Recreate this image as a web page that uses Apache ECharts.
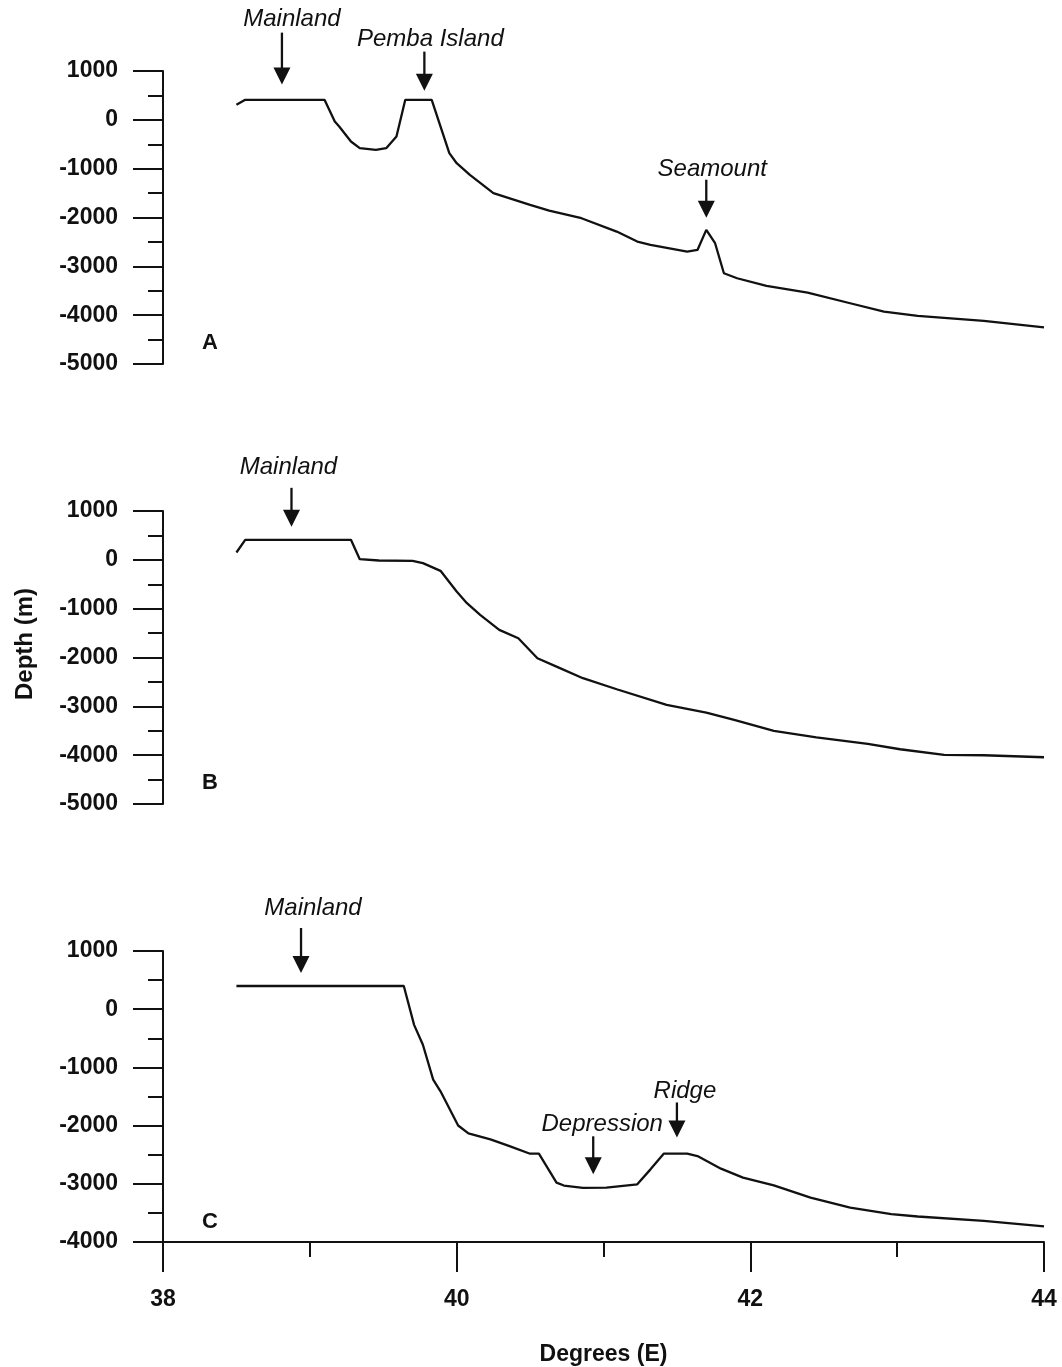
<!DOCTYPE html>
<html>
<head>
<meta charset="utf-8">
<title>Depth profiles</title>
<script src="https://cdn.jsdelivr.net/npm/echarts@6/dist/echarts.min.js"></script>
<style>
  html, body { margin: 0; padding: 0; background: #fff; }
  #main { width: 1062px; height: 1367px; }
</style>
</head>
<body>
<div id="main"></div>
<script>
// profile A (lon in degrees E, depth in m)
var lonA = [38.50, 38.56, 39.10, 39.17, 39.20, 39.28, 39.34, 39.45, 39.52, 39.59, 39.65, 39.83,
  39.95, 40.00, 40.09, 40.25, 40.50, 40.63, 40.85, 41.09, 41.23, 41.32, 41.57, 41.64, 41.70,
  41.76, 41.82, 41.91, 42.11, 42.39, 42.68, 42.91, 43.14, 43.59, 44.00];
var depthA = [307, 410, 410, -35, -137, -444, -580, -615, -580, -342, 410, 410,
  -683, -888, -1127, -1502, -1742, -1858, -2015, -2288, -2493, -2561, -2698, -2664, -2254,
  -2527, -3142, -3244, -3402, -3538, -3756, -3928, -4016, -4119, -4249];

// profile B
var lonB = [38.50, 38.56, 39.28, 39.34, 39.47, 39.70, 39.77, 39.89, 40.00, 40.07, 40.16, 40.29,
  40.42, 40.55, 40.68, 40.86, 41.09, 41.43, 41.70, 41.89, 42.16, 42.45, 42.80, 43.02, 43.32,
  43.59, 44.00];
var depthB = [150, 410, 410, 14, -14, -20, -68, -225, -649, -888, -1127, -1434,
  -1605, -2015, -2186, -2424, -2650, -2971, -3129, -3279, -3504, -3634, -3770, -3879, -3996,
  -4002, -4043];

// profile C
var lonC = [38.50, 39.64, 39.71, 39.77, 39.84, 39.89, 40.01, 40.08, 40.23, 40.36, 40.50, 40.56,
  40.68, 40.73, 40.86, 41.02, 41.23, 41.32, 41.41, 41.57, 41.64, 41.80, 41.95, 42.16, 42.41,
  42.68, 42.96, 43.14, 43.59, 44.00];
var depthC = [399, 399, -269, -611, -1211, -1411, -1998, -2135, -2238, -2352, -2483, -2483,
  -2980, -3030, -3070, -3065, -3009, -2752, -2483, -2483, -2524, -2740, -2894, -3026, -3236,
  -3408, -3522, -3562, -3636, -3733];

// axis ranges
var yMinAB = -5000;
var yMinC = -4000;
var yMax = 1000;
var xMin = 38;
var xMax = 44;

// arrow annotations: text, panel, arrow tip (lon, depth)
var annoText = ['Mainland', 'Pemba Island', 'Seamount', 'Mainland', 'Mainland', 'Depression', 'Ridge'];
var annoPanel = [0, 0, 0, 1, 2, 2, 2];
var annoLon = [38.81, 39.78, 41.70, 38.875, 38.94, 40.93, 41.50];
var annoDepth = [721, 598, -2004, 676, 622, -2837, -2204];

var panelLetters = ['A', 'B', 'C'];

// layout only: arrow length and text offset from the arrow tip (px)
var annoLayout = [
  { len: 52, dx: 10, dy: -65 },
  { len: 39, dx: 6, dy: -51 },
  { len: 38, dx: 6, dy: -48 },
  { len: 39, dx: -3, dy: -59 },
  { len: 45, dx: 12, dy: -65 },
  { len: 38, dx: 9, dy: -50 },
  { len: 35, dx: 8, dy: -46 }
];

var FONT = 'Liberation Sans, Arial, sans-serif';
var INK = '#111';

function pairs(xs, ys) {
  return xs.map(function (x, i) { return [x, ys[i]]; });
}

function yAxisFor(idx, min) {
  return {
    type: 'value', gridIndex: idx, min: min, max: yMax, interval: 1000,
    axisLine: { show: true, lineStyle: { color: INK, width: 2 } },
    axisTick: { show: true, length: 30, lineStyle: { color: INK, width: 2 } },
    minorTick: { show: true, splitNumber: 2, length: 15, lineStyle: { color: INK, width: 2 } },
    splitLine: { show: false },
    axisLabel: {
      margin: 45, color: INK, fontSize: 23, fontWeight: 'bold', fontFamily: FONT,
      formatter: function (v) { return String(v); }
    }
  };
}

function xAxisFor(idx, visible) {
  return {
    type: 'value', gridIndex: idx, min: xMin, max: xMax, interval: 2, show: visible,
    axisLine: { onZero: false, lineStyle: { color: INK, width: 2 } },
    axisTick: { length: 30, lineStyle: { color: INK, width: 2 } },
    minorTick: { show: true, splitNumber: 2, length: 15, lineStyle: { color: INK, width: 2 } },
    splitLine: { show: false },
    axisLabel: { margin: 46, color: INK, fontSize: 23, fontWeight: 'bold', fontFamily: FONT },
    name: visible ? 'Degrees (E)' : '',
    nameLocation: 'middle',
    nameGap: 101,
    nameTextStyle: { color: INK, fontSize: 23, fontWeight: 'bold', fontFamily: FONT }
  };
}

function lineSeries(idx, xs, ys) {
  return {
    type: 'line', xAxisIndex: idx, yAxisIndex: idx,
    data: pairs(xs, ys),
    symbol: 'none', silent: true,
    lineStyle: { color: INK, width: 2.3 }
  };
}

var chartDom = document.getElementById('main');
var myChart = echarts.init(chartDom, null, { renderer: 'canvas' });

var option = {
  backgroundColor: '#fff',
  animation: false,
  grid: [
    { left: 163, top: 71, width: 881, height: 293 },
    { left: 163, top: 511, width: 881, height: 293 },
    { left: 163, top: 951, width: 881, height: 292 }
  ],
  xAxis: [xAxisFor(0, false), xAxisFor(1, false), xAxisFor(2, true)],
  yAxis: [yAxisFor(0, yMinAB), yAxisFor(1, yMinAB), yAxisFor(2, yMinC)],
  series: [
    lineSeries(0, lonA, depthA),
    lineSeries(1, lonB, depthB),
    lineSeries(2, lonC, depthC)
  ]
};

myChart.setOption(option);

// arrows, labels and panel letters placed through the axes' scales
var graphics = [];
annoText.forEach(function (txt, i) {
  var p = myChart.convertToPixel({ gridIndex: annoPanel[i] }, [annoLon[i], annoDepth[i]]);
  var lay = annoLayout[i];
  graphics.push({
    type: 'line', silent: true,
    shape: { x1: p[0], y1: p[1] - lay.len, x2: p[0], y2: p[1] - 15 },
    style: { stroke: INK, lineWidth: 2.3 }
  });
  graphics.push({
    type: 'polygon', silent: true,
    shape: { points: [[p[0] - 8.5, p[1] - 17], [p[0] + 8.5, p[1] - 17], [p[0], p[1]]] },
    style: { fill: INK }
  });
  graphics.push({
    type: 'text', silent: true, x: p[0] + lay.dx, y: p[1] + lay.dy,
    style: {
      text: txt, fill: INK, align: 'center', verticalAlign: 'middle',
      font: 'italic 24px ' + FONT
    }
  });
});

panelLetters.forEach(function (letter, i) {
  var r = option.grid[i];
  graphics.push({
    type: 'text', silent: true, x: r.left + 47, y: r.top + r.height - 21,
    style: {
      text: letter, fill: INK, align: 'center', verticalAlign: 'middle',
      font: 'bold 22px ' + FONT
    }
  });
});

graphics.push({
  type: 'text', silent: true, x: 25, y: 644, rotation: Math.PI / 2,
  style: {
    text: 'Depth (m)', fill: INK, align: 'center', verticalAlign: 'middle',
    font: 'bold 24px ' + FONT
  }
});

myChart.setOption({ graphic: graphics });
</script>
</body>
</html>
